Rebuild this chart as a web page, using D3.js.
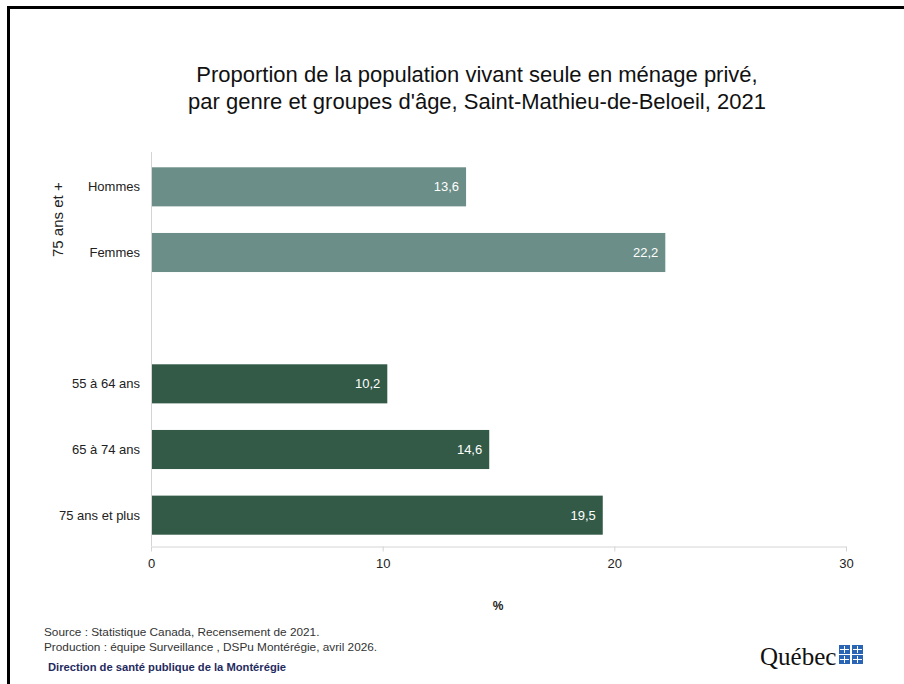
<!DOCTYPE html>
<html><head><meta charset="utf-8">
<script src="https://cdn.jsdelivr.net/npm/d3@7"></script>
<style>body{margin:0;background:#fff}svg{display:block}</style>
</head><body>
<svg id="c" width="904" height="684"></svg>
<script>
const categories = ["Hommes", "Femmes", "", "55 à 64 ans", "65 à 74 ans", "75 ans et plus"];
const values = [13.6, 22.2, null, 10.2, 14.6, 19.5];
const groups = ["75+", "75+", "", "age", "age", "age"];
const xTicks = [0, 10, 20, 30];
const titleLines = ["Proportion de la population vivant seule en ménage privé,", "par genre et groupes d'âge, Saint-Mathieu-de-Beloeil, 2021"];

const svg = d3.select("#c");
// frame
svg.append("path").attr("d", "M8.5,684 L8.5,7.5 L904,7.5").attr("fill", "none").attr("stroke", "#000").attr("stroke-width", 3);

const color = {"75+": "#6b8e88", "age": "#325a46"};
const x = d3.scaleLinear().domain([0, 30]).range([151, 846]);
const y = d3.scaleBand().domain(d3.range(categories.length)).range([154, 548]).paddingInner(0.405).paddingOuter(0.2025);

// title
svg.append("text").attr("x", 477).attr("y", 0).attr("text-anchor", "middle")
  .attr("font-family", "'Liberation Sans', sans-serif").attr("font-size", 22).attr("fill", "#111")
  .selectAll("tspan").data(titleLines).join("tspan").attr("x", 477).attr("y", (d, i) => 82 + i * 27).text(d => d);

// bars
const data = categories.map((c, i) => ({c, v: values[i], g: groups[i], i})).filter(d => d.v != null);
svg.append("g").selectAll("rect").data(data).join("rect")
  .attr("x", x(0)).attr("y", d => y(d.i)).attr("width", d => x(d.v) - x(0)).attr("height", y.bandwidth())
  .attr("fill", d => color[d.g]);
svg.append("g").selectAll("text").data(data).join("text")
  .attr("x", d => x(d.v) - 7).attr("y", d => y(d.i) + y.bandwidth() / 2 + 4.5)
  .attr("text-anchor", "end").attr("fill", "#fff").attr("font-family", "'Liberation Sans', sans-serif").attr("font-size", 13)
  .text(d => d3.format(".1f")(d.v).replace(".", ","));

// category labels
svg.append("g").selectAll("text").data(data).join("text")
  .attr("x", 140).attr("y", d => y(d.i) + y.bandwidth() / 2 + 4.5)
  .attr("text-anchor", "end").attr("fill", "#222").attr("font-family", "'Liberation Sans', sans-serif").attr("font-size", 13)
  .text(d => d.c);
// group label rotated
const gy = (y(0) + y(1) + y.bandwidth()) / 2;
svg.append("text").attr("transform", `translate(63,${gy}) rotate(-90)`).attr("text-anchor", "middle")
  .attr("fill", "#222").attr("font-family", "'Liberation Sans', sans-serif").attr("font-size", 15).text("75 ans et +");

// y axis line
svg.append("line").attr("x1", 151.5).attr("x2", 151.5).attr("y1", 152).attr("y2", 546).attr("stroke", "#d4d4d4").attr("stroke-width", 1);
// x axis
const xa = svg.append("g").attr("transform", "translate(0,546.5)")
  .call(d3.axisBottom(x).tickValues(xTicks).tickSize(5).tickSizeOuter(0).tickFormat(d => d));
xa.select(".domain").attr("stroke", "#d4d4d4");
xa.selectAll(".tick line").attr("stroke", "#d4d4d4");
xa.selectAll(".tick text").attr("fill", "#222").attr("font-family", "'Liberation Sans', sans-serif").attr("font-size", 13).attr("dy", "1.0em");
svg.append("text").attr("x", 498).attr("y", 610).attr("text-anchor", "middle").attr("fill", "#222")
  .attr("font-family", "'Liberation Sans', sans-serif").attr("font-size", 12).attr("font-weight", "bold").text("%");

// footer
const foot = svg.append("g").attr("font-family", "'Liberation Sans', sans-serif").attr("font-size", 11.8).attr("fill", "#333");
foot.append("text").attr("x", 44).attr("y", 636).text("Source : Statistique Canada, Recensement de 2021.");
foot.append("text").attr("x", 44).attr("y", 651).text("Production : équipe Surveillance , DSPu Montérégie, avril 2026.");
svg.append("text").attr("x", 48).attr("y", 671).attr("font-family", "'Liberation Sans', sans-serif")
  .attr("font-size", 11.2).attr("font-weight", "bold").attr("fill", "#1f2b5e").text("Direction de santé publique de la Montérégie");

// Québec logo
svg.append("text").attr("x", 760).attr("y", 665).attr("font-family", "'Liberation Serif', serif").attr("font-size", 25).attr("fill", "#111").text("Québec");
const flag = svg.append("g").attr("transform", "translate(839,645)");
[[0,0],[13,0],[0,10],[13,10]].forEach(([dx, dy]) => {
  flag.append("rect").attr("x", dx).attr("y", dy).attr("width", 11).attr("height", 9).attr("fill", "#2a64b4");
  flag.append("line").attr("x1", dx + 5.5).attr("x2", dx + 5.5).attr("y1", dy + 1).attr("y2", dy + 8).attr("stroke", "#fff").attr("stroke-width", 1);
  flag.append("line").attr("x1", dx + 1).attr("x2", dx + 10).attr("y1", dy + 4.5).attr("y2", dy + 4.5).attr("stroke", "#fff").attr("stroke-width", 1);
});
</script>
</body></html>
